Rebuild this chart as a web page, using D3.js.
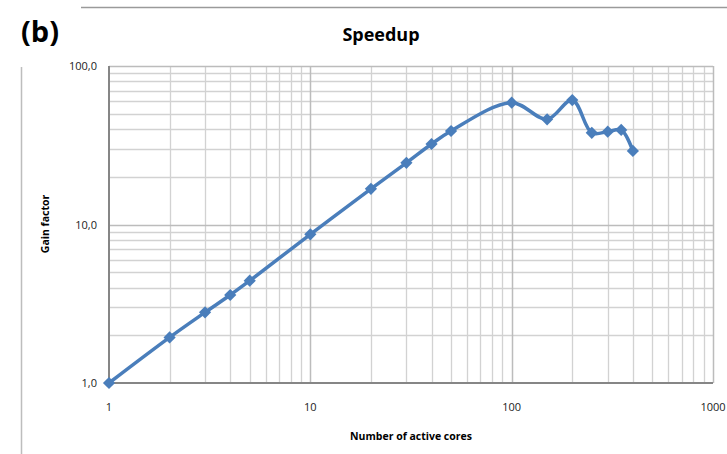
<!doctype html>
<html>
<head>
    <meta charset="utf-8"/>
    <style>
        html, body {
            margin: 0;
            padding: 0;
            background: #fff;
        }
        svg text {
            font-family: "Open Sans", "Noto Sans", sans-serif;
        }
    </style>
    <script src="https://d3js.org/d3.v7.min.js"></script>
</head>
<body>
<svg width="727" height="454"></svg>
<script>

    // Data
    var cores = [1, 2, 3, 4, 5, 10, 20, 30, 40, 50, 100, 150, 200, 250, 300, 350, 400];
    var gain = [1.0, 1.94, 2.79, 3.59, 4.42, 8.67, 16.8, 24.5, 32.2, 38.9, 58.7, 46.1, 61.0, 37.9, 38.5, 39.5, 29.1];
    var xTicks = [1, 10, 100, 1000];
    var yTicks = [1, 10, 100];

    var svg = d3.select("svg");

    // Plot area
    var plotL = 109, plotR = 713, plotT = 66, plotB = 383;

    var x = d3.scaleLog().domain([1, 1000]).range([plotL, plotR]);
    var y = d3.scaleLog().domain([1, 100]).range([plotB, plotT]);

    // Decorative frame lines from the figure panel
    svg.append("line")
        .attr("x1", 81).attr("x2", 727).attr("y1", 7.5).attr("y2", 7.5)
        .attr("stroke", "#9a9a9a").attr("stroke-width", 1.5);
    svg.append("line")
        .attr("x1", 21.5).attr("x2", 21.5).attr("y1", 67).attr("y2", 454)
        .attr("stroke", "#bdbdbd").attr("stroke-width", 1.5);

    // Grid: minor lines for 2..9 in every decade, major lines at powers of ten
    var xMinor = [];
    for (var d = 1; d < 1000; d *= 10) {
        for (var m = 2; m <= 9; m++) xMinor.push(d * m);
    }
    var yMinor = [];
    for (var d2 = 1; d2 < 100; d2 *= 10) {
        for (var m2 = 2; m2 <= 9; m2++) yMinor.push(d2 * m2);
    }

    var grid = svg.append("g");
    grid.selectAll(".vminor").data(xMinor).enter().append("line")
        .attr("x1", function(v) { return Math.round(x(v)) + 0.5; })
        .attr("x2", function(v) { return Math.round(x(v)) + 0.5; })
        .attr("y1", plotT).attr("y2", plotB)
        .attr("stroke", "#d2d2d2").attr("stroke-width", 1.3);
    grid.selectAll(".hminor").data(yMinor).enter().append("line")
        .attr("x1", plotL).attr("x2", plotR)
        .attr("y1", function(v) { return Math.round(y(v)) + 0.5; })
        .attr("y2", function(v) { return Math.round(y(v)) + 0.5; })
        .attr("stroke", "#d2d2d2").attr("stroke-width", 1.3);
    grid.selectAll(".vmajor").data([10, 100, 1000]).enter().append("line")
        .attr("x1", function(v) { return Math.round(x(v)) + 0.5; })
        .attr("x2", function(v) { return Math.round(x(v)) + 0.5; })
        .attr("y1", plotT).attr("y2", plotB)
        .attr("stroke", "#bcbcbc").attr("stroke-width", 1.5);
    grid.selectAll(".hmajor").data([10, 100]).enter().append("line")
        .attr("x1", plotL).attr("x2", plotR)
        .attr("y1", function(v) { return Math.round(y(v)) + 0.5; })
        .attr("y2", function(v) { return Math.round(y(v)) + 0.5; })
        .attr("stroke", "#bcbcbc").attr("stroke-width", 1.5);

    // Axes lines
    svg.append("line")
        .attr("x1", plotL).attr("x2", plotL).attr("y1", plotT).attr("y2", plotB)
        .attr("stroke", "#868686").attr("stroke-width", 2);
    svg.append("line")
        .attr("x1", plotL).attr("x2", plotR).attr("y1", plotB).attr("y2", plotB)
        .attr("stroke", "#868686").attr("stroke-width", 2);

    // Tick labels
    var fmt = function(v) { return d3.format(".1f")(v).replace(".", ","); };
    svg.selectAll(".ylab").data(yTicks).enter().append("text")
        .attr("x", plotL - 12)
        .attr("y", function(v) { return y(v) + 4; })
        .attr("text-anchor", "end")
        .attr("font-size", 11)
        .attr("fill", "#222")
        .text(fmt);
    svg.selectAll(".xlab").data(xTicks).enter().append("text")
        .attr("x", function(v) { return x(v); })
        .attr("y", 411)
        .attr("text-anchor", "middle")
        .attr("font-size", 11)
        .attr("fill", "#222")
        .text(function(v) { return v; });

    // Titles
    svg.append("text")
        .attr("x", 381).attr("y", 41)
        .attr("text-anchor", "middle")
        .attr("font-size", 18).attr("font-weight", "bold")
        .text("Speedup");
    svg.append("text")
        .attr("x", 21).attr("y", 42)
        .attr("font-size", 29).attr("font-weight", "bold")
        .text("(b)");
    svg.append("text")
        .attr("x", 411).attr("y", 440)
        .attr("text-anchor", "middle")
        .attr("font-size", 10.5).attr("font-weight", "bold")
        .text("Number of active cores");
    svg.append("text")
        .attr("transform", "translate(49,224) rotate(-90)")
        .attr("text-anchor", "middle")
        .attr("font-size", 10.5).attr("font-weight", "bold")
        .text("Gain factor");

    // Series
    var pts = cores.map(function(c, i) { return [c, gain[i]]; });
    var line = d3.line()
        .x(function(p) { return x(p[0]); })
        .y(function(p) { return y(p[1]); })
        .curve(d3.curveCatmullRom.alpha(0.5));

    svg.append("path")
        .datum(pts)
        .attr("d", line)
        .attr("fill", "none")
        .attr("stroke", "#4a7ebb")
        .attr("stroke-width", 3.5)
        .attr("stroke-linejoin", "round");

    svg.selectAll(".mk").data(pts).enter().append("path")
        .attr("d", d3.symbol().type(d3.symbolDiamond2).size(95))
        .attr("transform", function(p) { return "translate(" + x(p[0]) + "," + y(p[1]) + ")"; })
        .attr("fill", "#4a7ebb");

</script>
</body>
</html>
